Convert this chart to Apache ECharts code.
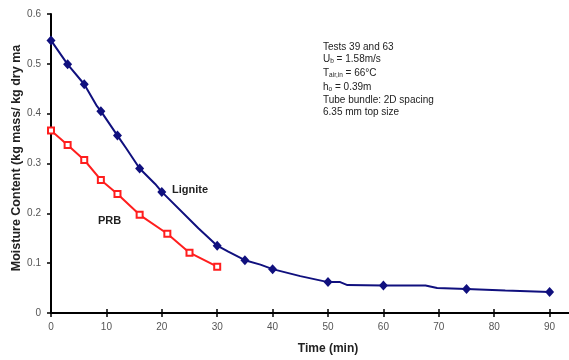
<!DOCTYPE html>
<html>
<head>
<meta charset="utf-8">
<script src="https://cdn.jsdelivr.net/npm/echarts@6/dist/echarts.min.js"></script>
<style>
  html, body { margin: 0; padding: 0; background: #fff; }
  #chart { width: 569px; height: 360px; }
</style>
</head>
<body>
<div id="chart"></div>
<script>
// Drying curves: moisture content against time for two coals
const timeTicks = [0, 10, 20, 30, 40, 50, 60, 70, 80, 90];
const moistureTicks = [0, 0.1, 0.2, 0.3, 0.4, 0.5, 0.6];

// Lignite: sampled points (marked)
const ligniteTime = [0, 3, 6, 9, 12, 16, 20, 30, 35, 40, 50, 60, 75, 90];
const ligniteMoisture = [0.547, 0.499, 0.459, 0.405, 0.356, 0.290, 0.243, 0.135, 0.106, 0.088, 0.062, 0.055, 0.048, 0.042];

// Lignite: continuous trace between samples
const ligniteTraceTime = [0, 3, 6, 8.3, 9, 12, 13.6, 16, 18.8, 20, 26.6, 30, 32, 35, 37.8, 40, 45, 50, 52.2, 53.5, 60, 67.6, 69.7, 75, 82, 90];
const ligniteTrace = [0.547, 0.499, 0.459, 0.415, 0.405, 0.356, 0.330, 0.290, 0.259, 0.243, 0.170, 0.135, 0.123, 0.106, 0.097, 0.088, 0.074, 0.062, 0.062, 0.056, 0.055, 0.055, 0.050, 0.048, 0.045, 0.042];

// PRB
const prbTime = [0, 3, 6, 9, 12, 16, 21, 25, 30];
const prbMoisture = [0.366, 0.337, 0.307, 0.267, 0.239, 0.197, 0.159, 0.121, 0.093];

const seriesNames = ['Lignite', 'PRB'];
const xTitle = 'Time (min)';
const yTitle = 'Moisture Content (kg mass/ kg dry ma';

const zip = (xs, ys) => xs.map((x, i) => [x, ys[i]]);

const NAVY = '#10107e';
const RED = '#ff1e1e';
const FONT = '"Liberation Sans", Arial, sans-serif';

const GRID = { left: 51, right: 0, top: 14, bottom: 47 };
const gridW = 569 - GRID.left - GRID.right;
const gridH = 360 - GRID.top - GRID.bottom;

const baseX = { type: 'value', min: 0, max: 93.5, interval: 10, splitLine: { show: false } };
const baseY = { type: 'value', min: 0, max: 0.6, interval: 0.1, splitLine: { show: false } };

const tickStyle = { color: '#000', width: 1.5 };

const chart = echarts.init(document.getElementById('chart'), null, { renderer: 'canvas' });

const note = (text, x, y) => ({
  type: 'text', left: x, top: y, silent: true,
  style: {
    text, fill: '#222', font: '10px ' + FONT,
    rich: {
      n: { fontSize: 10, fontFamily: FONT, fill: '#222', lineHeight: 12 },
      s: { fontSize: 6.5, fontFamily: FONT, fill: '#222', lineHeight: 12, verticalAlign: 'bottom', padding: [4, 0, 0, 0] }
    }
  }
});

chart.setOption({
  animation: false,
  backgroundColor: '#fff',
  grid: GRID,
  xAxis: [
    Object.assign({}, baseX, {
      position: 'bottom',
      axisLine: { show: true, onZero: false, lineStyle: { color: '#000', width: 2 } },
      axisTick: { show: true, length: 4, customValues: timeTicks, lineStyle: tickStyle },
      axisLabel: { customValues: timeTicks, color: '#555', fontSize: 10, fontFamily: FONT, margin: 9 }
    }),
    // inner half of the crossing ticks
    Object.assign({}, baseX, {
      position: 'top', offset: -gridH,
      axisLine: { show: false },
      axisTick: { show: true, length: 4, customValues: timeTicks, lineStyle: tickStyle },
      axisLabel: { show: false }
    })
  ],
  yAxis: [
    Object.assign({}, baseY, {
      position: 'left',
      axisLine: { show: true, onZero: false, lineStyle: { color: '#000', width: 2 } },
      axisTick: { show: true, length: 4, customValues: moistureTicks, lineStyle: tickStyle },
      axisLabel: {
        customValues: moistureTicks, color: '#555', fontSize: 10, fontFamily: FONT, margin: 10,
        formatter: v => (v === 0 ? '0' : v.toFixed(1))
      }
    }),
    Object.assign({}, baseY, {
      position: 'right', offset: -gridW,
      axisLine: { show: false },
      axisTick: { show: true, length: 4, customValues: moistureTicks, lineStyle: tickStyle },
      axisLabel: { show: false }
    })
  ],
  series: [
    {
      name: seriesNames[0] + ' trace', type: 'line', xAxisIndex: 0, yAxisIndex: 0,
      data: zip(ligniteTraceTime, ligniteTrace),
      showSymbol: false, smooth: false,
      lineStyle: { color: NAVY, width: 2 }, z: 3
    },
    {
      name: seriesNames[0], type: 'scatter', xAxisIndex: 0, yAxisIndex: 0,
      data: zip(ligniteTime, ligniteMoisture),
      symbol: 'diamond', symbolSize: [9, 10],
      itemStyle: { color: NAVY, opacity: 1 }, z: 4
    },
    {
      name: seriesNames[1], type: 'line', xAxisIndex: 0, yAxisIndex: 0,
      data: zip(prbTime, prbMoisture),
      symbol: 'rect', symbolSize: 6, showSymbol: true,
      lineStyle: { color: RED, width: 2 },
      itemStyle: { color: '#fff', borderColor: RED, borderWidth: 2 }, z: 3
    }
  ],
  graphic: [
    {
      type: 'text', x: 17, y: 158, rotation: Math.PI / 2, silent: true,
      style: { text: yTitle, font: 'bold 12.5px ' + FONT, fill: '#222', align: 'center', verticalAlign: 'middle' }
    },
    {
      type: 'text', x: 328, y: 349, silent: true,
      style: { text: xTitle, font: 'bold 12px ' + FONT, fill: '#222', align: 'center', verticalAlign: 'middle' }
    },
    {
      type: 'text', x: 172, y: 190, silent: true,
      style: { text: seriesNames[0], font: 'bold 11px ' + FONT, fill: '#222', align: 'left', verticalAlign: 'middle' }
    },
    {
      type: 'text', x: 98, y: 221, silent: true,
      style: { text: seriesNames[1], font: 'bold 11px ' + FONT, fill: '#222', align: 'left', verticalAlign: 'middle' }
    },
    note('{n|Tests 39 and 63}', 323, 42),
    note('{n|U}{s|b}{n| = 1.58m/s}', 323, 54),
    note('{n|T}{s|air,in}{n| = 66°C}', 323, 68),
    note('{n|h}{s|o}{n| = 0.39m}', 323, 82),
    note('{n|Tube bundle: 2D spacing}', 323, 95),
    note('{n|6.35 mm top size}', 323, 107)
  ]
});
</script>
</body>
</html>
